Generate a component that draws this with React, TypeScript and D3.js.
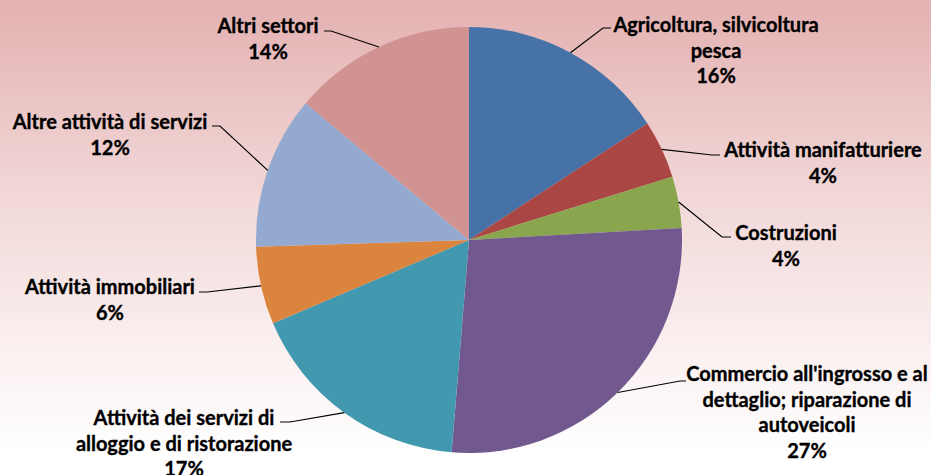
import React, { useRef, useEffect } from "react";
import * as d3 from "d3";

const categories = [
  ["Agricoltura, silvicoltura", "pesca"],
  ["Attività manifatturiere"],
  ["Costruzioni"],
  ["Commercio all'ingrosso e al", "dettaglio; riparazione di", "autoveicoli"],
  ["Attività dei servizi di", "alloggio e di ristorazione"],
  ["Attività immobiliari"],
  ["Altre attività di servizi"],
  ["Altri settori"],
];
const values = [15.8, 4.4, 3.9, 27.2, 17.3, 5.9, 11.6, 13.9];
const percentLabels = ["16%", "4%", "4%", "27%", "17%", "6%", "12%", "14%"];
const colors = ["#4672a8", "#aa4644", "#89a54e", "#71588f", "#4198af", "#db843d", "#93a9cf", "#d19392"];

// label placement (text centre, first baseline, leader elbow and end)
const labelLayout = [
  { tx: 716, ty: 32, ex: 603, ey: 28, hx: 611 },
  { tx: 823, ty: 157, ex: 712, ey: 155, hx: 720 },
  { tx: 786, ty: 240, ex: 722, ey: 237, hx: 731 },
  { tx: 807, ty: 381, ex: 680, ey: 381, hx: 686 },
  { tx: 184, ty: 425, ex: 290, ey: 422, hx: 280 },
  { tx: 110, ty: 294, ex: 207, ey: 292, hx: 199 },
  { tx: 110, ty: 129, ex: 220, ey: 126, hx: 212 },
  { tx: 268, ty: 33, ex: 331, ey: 31, hx: 324 },
];

const width = 931;
const height = 475;
const cx = 469;
const cy = 240;
const radius = 213;
const lineHeight = 25.5;

export default function App() {
  const svgRef = useRef<SVGSVGElement>(null);

  useEffect(() => {
    if (!svgRef.current) return;
    const svg = d3.select(svgRef.current);
    svg.selectAll("*").remove();

    const defs = svg.append("defs");
    const grad = defs.append("linearGradient").attr("id", "bg").attr("x1", 0).attr("y1", 0).attr("x2", 0).attr("y2", 1);
    grad.append("stop").attr("offset", "0%").attr("stop-color", "#e4b1b1");
    grad.append("stop").attr("offset", "42%").attr("stop-color", "#f2d8d8");
    grad.append("stop").attr("offset", "75%").attr("stop-color", "#fbf1f1");
    grad.append("stop").attr("offset", "96%").attr("stop-color", "#ffffff");
    svg.append("rect").attr("width", width).attr("height", height).attr("fill", "url(#bg)");

    const pie = d3.pie<number>().sort(null).value((d) => d);
    const arcs = pie(values);
    const arc = d3.arc<d3.PieArcDatum<number>>().innerRadius(0).outerRadius(radius);

    const g = svg.append("g").attr("transform", `translate(${cx},${cy})`);
    g.selectAll("path.slice")
      .data(arcs)
      .join("path")
      .attr("class", "slice")
      .attr("d", arc)
      .attr("fill", (_, i) => colors[i]);

    const labels = svg.append("g")
      .attr("font-family", "Lato, 'Open Sans', sans-serif")
      .attr("font-weight", "bold")
      .attr("font-size", 20)
      .attr("fill", "#000");

    arcs.forEach((a, i) => {
      const mid = (a.startAngle + a.endAngle) / 2;
      const px = cx + radius * Math.sin(mid);
      const py = cy - radius * Math.cos(mid);
      const L = labelLayout[i];
      labels.append("polyline")
        .attr("points", `${px},${py} ${L.ex},${L.ey} ${L.hx},${L.ey}`)
        .attr("fill", "none")
        .attr("stroke", "#000")
        .attr("stroke-width", 1.2);
      const lines = [...categories[i], percentLabels[i]];
      const t = labels.append("text")
        .attr("text-anchor", "middle")
        .attr("stroke", "#000")
        .attr("stroke-width", 0.35);
      lines.forEach((ln, j) => {
        t.append("tspan").attr("x", L.tx).attr("y", L.ty + j * lineHeight).text(ln);
      });
    });
  }, []);

  return (
    <svg
      ref={svgRef}
      width={width}
      height={height}
      style={{ position: "absolute", left: 0, top: 0, display: "block" }}
    />
  );
}
